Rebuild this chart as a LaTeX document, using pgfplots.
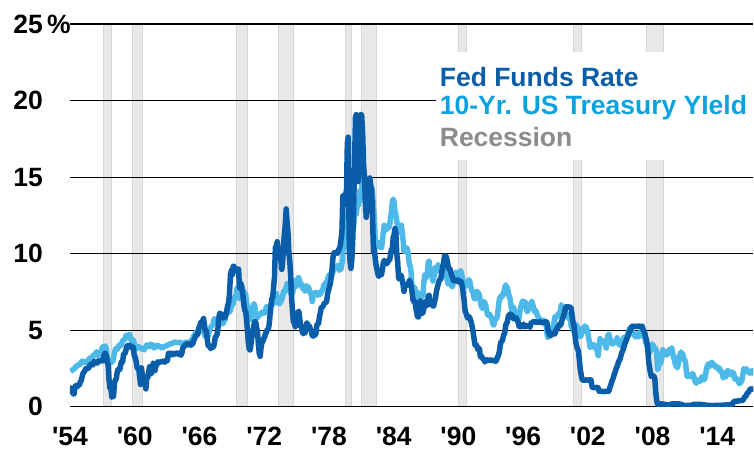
\documentclass[border=0pt]{standalone}
\usepackage{pgfplots}
\pgfplotsset{compat=1.18}
\usepackage{fontspec}
\setmainfont{Liberation Sans}
\definecolor{fedblue}{HTML}{0A5DA8}
\definecolor{tsyblue}{HTML}{4DB9E8}
\definecolor{tsytext}{HTML}{0AA3E0}
\definecolor{recgray}{HTML}{E8E8E8}
\definecolor{recedge}{HTML}{D6D6D6}
\definecolor{legray}{HTML}{8C8C8C}
\newcommand{\bigfont}{\fontsize{26.5}{30}\selectfont\bfseries}
\begin{document}
\begin{tikzpicture}
\begin{axis}[
  set layers,
  at={(70pt,45pt)}, anchor=south west,
  scale only axis, width=684pt, height=383pt,
  xmin=1954.5, xmax=2017.85, ymin=0, ymax=25,
  axis line style={draw=none},
  major tick length=0pt,
  xtick={1954.5,1960.5,1966.5,1972.5,1978.5,1984.5,1990.5,1996.5,2002.5,2008.5,2014.5},
  xticklabels={\textquotesingle54,\textquotesingle60,\textquotesingle66,\textquotesingle72,\textquotesingle78,\textquotesingle84,\textquotesingle90,\textquotesingle96,\textquotesingle02,\textquotesingle08,\textquotesingle14},
  ytick={0,5,10,15,20,25},
  yticklabels={0,5,10,15,20,{25\rlap{\,\%}}},
  ymajorgrids, grid style={black, line width=1.1pt},
  tick label style={font=\bigfont},
  xticklabel style={anchor=base, inner sep=0pt, yshift=-38.5pt},
  yticklabel style={anchor=east, inner sep=0pt, xshift=-27pt},
  /pgf/number format/assume math mode=true,
]
% Recessions
\addplot[on layer=axis background, fill=recgray, draw=recedge, line width=0.8pt] coordinates {(1957.58,0)(1957.58,25)(1958.33,25)(1958.33,0)};
\addplot[on layer=axis background, fill=recgray, draw=recedge, line width=0.8pt] coordinates {(1960.25,0)(1960.25,25)(1961.17,25)(1961.17,0)};
\addplot[on layer=axis background, fill=recgray, draw=recedge, line width=0.8pt] coordinates {(1969.92,0)(1969.92,25)(1970.92,25)(1970.92,0)};
\addplot[on layer=axis background, fill=recgray, draw=recedge, line width=0.8pt] coordinates {(1973.83,0)(1973.83,25)(1975.25,25)(1975.25,0)};
\addplot[on layer=axis background, fill=recgray, draw=recedge, line width=0.8pt] coordinates {(1980.00,0)(1980.00,25)(1980.58,25)(1980.58,0)};
\addplot[on layer=axis background, fill=recgray, draw=recedge, line width=0.8pt] coordinates {(1981.50,0)(1981.50,25)(1982.92,25)(1982.92,0)};
\addplot[on layer=axis background, fill=recgray, draw=recedge, line width=0.8pt] coordinates {(1990.50,0)(1990.50,25)(1991.25,25)(1991.25,0)};
\addplot[on layer=axis background, fill=recgray, draw=recedge, line width=0.8pt] coordinates {(2001.17,0)(2001.17,25)(2001.92,25)(2001.92,0)};
\addplot[on layer=axis background, fill=recgray, draw=recedge, line width=0.8pt] coordinates {(2007.92,0)(2007.92,25)(2009.50,25)(2009.50,0)};
% 10-Yr Treasury
\addplot[tsyblue, line width=5.5pt, line join=round, mark=none] coordinates {
(1954.54,2.30)(1954.63,2.36)(1954.71,2.38)(1954.79,2.43)(1954.88,2.48)(1954.96,2.51)
(1955.04,2.61)(1955.13,2.65)(1955.21,2.68)(1955.29,2.75)(1955.38,2.76)(1955.46,2.78)(1955.54,2.90)(1955.63,2.97)(1955.71,2.97)(1955.79,2.88)(1955.88,2.89)(1955.96,2.96)
(1956.04,2.90)(1956.13,2.84)(1956.21,2.96)(1956.29,3.18)(1956.38,3.07)(1956.46,3.00)(1956.54,3.11)(1956.63,3.33)(1956.71,3.38)(1956.79,3.34)(1956.88,3.49)(1956.96,3.59)
(1957.04,3.46)(1957.13,3.34)(1957.21,3.41)(1957.29,3.48)(1957.38,3.60)(1957.46,3.80)(1957.54,3.93)(1957.63,3.93)(1957.71,3.92)(1957.79,3.97)(1957.88,3.72)(1957.96,3.21)
(1958.04,3.09)(1958.13,3.05)(1958.21,2.98)(1958.29,2.88)(1958.38,2.92)(1958.46,2.97)(1958.54,3.20)(1958.63,3.54)(1958.71,3.76)(1958.79,3.80)(1958.88,3.74)(1958.96,3.86)
(1959.04,4.02)(1959.13,3.96)(1959.21,3.99)(1959.29,4.12)(1959.38,4.31)(1959.46,4.34)(1959.54,4.40)(1959.63,4.43)(1959.71,4.68)(1959.79,4.53)(1959.88,4.53)(1959.96,4.69)
(1960.04,4.72)(1960.13,4.49)(1960.21,4.25)(1960.29,4.28)(1960.38,4.35)(1960.46,4.15)(1960.54,3.90)(1960.63,3.80)(1960.71,3.80)(1960.79,3.89)(1960.88,3.93)(1960.96,3.84)
(1961.04,3.84)(1961.13,3.78)(1961.21,3.74)(1961.29,3.78)(1961.38,3.71)(1961.46,3.88)(1961.54,3.92)(1961.63,4.04)(1961.71,3.98)(1961.79,3.92)(1961.88,3.94)(1961.96,4.06)
(1962.04,4.08)(1962.13,4.04)(1962.21,3.93)(1962.29,3.84)(1962.38,3.87)(1962.46,3.91)(1962.54,4.01)(1962.63,3.98)(1962.71,3.98)(1962.79,3.93)(1962.88,3.92)(1962.96,3.86)
(1963.04,3.83)(1963.21,3.93)(1963.38,3.97)(1963.54,4.02)(1963.71,4.08)(1963.88,4.12)(1963.96,4.13)
(1964.04,4.17)(1964.21,4.22)(1964.38,4.20)(1964.54,4.19)(1964.71,4.20)(1964.88,4.12)(1964.96,4.14)
(1965.04,4.14)(1965.21,4.21)(1965.38,4.21)(1965.54,4.20)(1965.71,4.29)(1965.88,4.45)(1965.96,4.62)
(1966.04,4.61)(1966.13,4.83)(1966.21,4.87)(1966.29,4.75)(1966.38,4.78)(1966.46,4.81)(1966.54,5.02)(1966.63,5.22)(1966.71,5.18)(1966.79,5.01)(1966.88,5.16)(1966.96,4.84)
(1967.04,4.58)(1967.13,4.63)(1967.21,4.54)(1967.29,4.59)(1967.38,4.85)(1967.46,5.02)(1967.54,5.16)(1967.63,5.28)(1967.71,5.30)(1967.79,5.48)(1967.88,5.75)(1967.96,5.70)
(1968.04,5.53)(1968.13,5.56)(1968.21,5.74)(1968.29,5.64)(1968.38,5.87)(1968.46,5.72)(1968.54,5.50)(1968.63,5.42)(1968.71,5.46)(1968.79,5.58)(1968.88,5.70)(1968.96,6.03)
(1969.04,6.04)(1969.13,6.19)(1969.21,6.30)(1969.29,6.17)(1969.38,6.32)(1969.46,6.57)(1969.54,6.72)(1969.63,6.69)(1969.71,7.16)(1969.79,7.10)(1969.88,7.14)(1969.96,7.65)
(1970.04,7.79)(1970.13,7.24)(1970.21,7.07)(1970.29,7.39)(1970.38,7.91)(1970.46,7.84)(1970.54,7.46)(1970.63,7.53)(1970.71,7.39)(1970.79,7.33)(1970.88,6.84)(1970.96,6.39)
(1971.04,6.24)(1971.13,6.11)(1971.21,5.70)(1971.29,5.83)(1971.38,6.39)(1971.46,6.52)(1971.54,6.73)(1971.63,6.58)(1971.71,6.14)(1971.79,5.93)(1971.88,5.81)(1971.96,5.93)
(1972.04,5.95)(1972.13,6.08)(1972.21,6.07)(1972.29,6.19)(1972.38,6.13)(1972.46,6.11)(1972.54,6.11)(1972.63,6.21)(1972.71,6.55)(1972.79,6.48)(1972.88,6.28)(1972.96,6.36)
(1973.04,6.46)(1973.13,6.64)(1973.21,6.71)(1973.29,6.67)(1973.38,6.85)(1973.46,6.90)(1973.54,7.13)(1973.63,7.40)(1973.71,7.09)(1973.79,6.79)(1973.88,6.73)(1973.96,6.74)
(1974.04,6.99)(1974.13,6.96)(1974.21,7.21)(1974.29,7.51)(1974.38,7.58)(1974.46,7.54)(1974.54,7.81)(1974.63,8.04)(1974.71,8.04)(1974.79,7.90)(1974.88,7.68)(1974.96,7.43)
(1975.04,7.50)(1975.13,7.39)(1975.21,7.73)(1975.29,8.23)(1975.38,8.06)(1975.46,7.86)(1975.54,8.06)(1975.63,8.40)(1975.71,8.43)(1975.79,8.14)(1975.88,8.05)(1975.96,8.00)
(1976.04,7.74)(1976.13,7.79)(1976.21,7.73)(1976.29,7.56)(1976.38,7.90)(1976.46,7.86)(1976.54,7.83)(1976.63,7.77)(1976.71,7.59)(1976.79,7.41)(1976.88,7.29)(1976.96,6.87)
(1977.04,7.21)(1977.13,7.39)(1977.21,7.46)(1977.29,7.37)(1977.38,7.46)(1977.46,7.28)(1977.54,7.33)(1977.63,7.40)(1977.71,7.34)(1977.79,7.52)(1977.88,7.58)(1977.96,7.69)
(1978.04,7.96)(1978.13,8.03)(1978.21,8.04)(1978.29,8.15)(1978.38,8.35)(1978.46,8.46)(1978.54,8.64)(1978.63,8.41)(1978.71,8.42)(1978.79,8.64)(1978.88,8.81)(1978.96,9.01)
(1979.04,9.10)(1979.13,9.10)(1979.21,9.12)(1979.29,9.18)(1979.38,9.25)(1979.46,8.91)(1979.54,8.95)(1979.63,9.03)(1979.71,9.33)(1979.79,10.30)(1979.88,10.65)(1979.96,10.39)
(1980.04,10.80)(1980.13,12.41)(1980.21,12.75)(1980.29,11.47)(1980.38,10.18)(1980.46,9.78)(1980.54,10.25)(1980.63,11.10)(1980.71,11.51)(1980.79,11.75)(1980.88,12.68)(1980.96,12.84)
(1981.04,12.57)(1981.13,13.19)(1981.21,13.12)(1981.29,13.68)(1981.38,14.10)(1981.46,13.47)(1981.54,14.28)(1981.63,14.94)(1981.71,15.32)(1981.79,15.15)(1981.88,13.39)(1981.96,13.72)
(1982.04,14.59)(1982.13,14.43)(1982.21,13.86)(1982.29,13.87)(1982.38,13.62)(1982.46,14.30)(1982.54,13.95)(1982.63,13.06)(1982.71,12.34)(1982.79,10.91)(1982.88,10.55)(1982.96,10.54)
(1983.04,10.46)(1983.13,10.72)(1983.21,10.51)(1983.29,10.40)(1983.38,10.38)(1983.46,10.85)(1983.54,11.38)(1983.63,11.85)(1983.71,11.65)(1983.79,11.54)(1983.88,11.69)(1983.96,11.83)
(1984.04,11.67)(1984.13,11.84)(1984.21,12.32)(1984.29,12.63)(1984.38,13.41)(1984.46,13.56)(1984.54,13.36)(1984.63,12.72)(1984.71,12.52)(1984.79,12.16)(1984.88,11.57)(1984.96,11.50)
(1985.04,11.38)(1985.13,11.51)(1985.21,11.86)(1985.29,11.43)(1985.38,10.85)(1985.46,10.16)(1985.54,10.31)(1985.63,10.33)(1985.71,10.37)(1985.79,10.24)(1985.88,9.78)(1985.96,9.26)
(1986.04,9.19)(1986.13,8.70)(1986.21,7.78)(1986.29,7.30)(1986.38,7.71)(1986.46,7.80)(1986.54,7.30)(1986.63,7.17)(1986.71,7.45)(1986.79,7.43)(1986.88,7.25)(1986.96,7.11)
(1987.04,7.08)(1987.13,7.25)(1987.21,7.25)(1987.29,8.02)(1987.38,8.61)(1987.46,8.40)(1987.54,8.45)(1987.63,8.76)(1987.71,9.42)(1987.79,9.52)(1987.88,8.86)(1987.96,8.99)
(1988.04,8.67)(1988.13,8.21)(1988.21,8.37)(1988.29,8.72)(1988.38,9.09)(1988.46,8.92)(1988.54,9.06)(1988.63,9.26)(1988.71,8.98)(1988.79,8.80)(1988.88,8.96)(1988.96,9.11)
(1989.04,9.09)(1989.13,9.17)(1989.21,9.36)(1989.29,9.18)(1989.38,8.86)(1989.46,8.28)(1989.54,8.02)(1989.63,8.11)(1989.71,8.19)(1989.79,8.01)(1989.88,7.87)(1989.96,7.84)
(1990.04,8.21)(1990.13,8.47)(1990.21,8.59)(1990.29,8.79)(1990.38,8.76)(1990.46,8.48)(1990.54,8.47)(1990.63,8.75)(1990.71,8.89)(1990.79,8.72)(1990.88,8.39)(1990.96,8.08)
(1991.04,8.09)(1991.13,7.85)(1991.21,8.11)(1991.29,8.04)(1991.38,8.07)(1991.46,8.28)(1991.54,8.27)(1991.63,7.90)(1991.71,7.65)(1991.79,7.53)(1991.88,7.42)(1991.96,7.09)
(1992.04,7.03)(1992.13,7.34)(1992.21,7.54)(1992.29,7.48)(1992.38,7.39)(1992.46,7.26)(1992.54,6.84)(1992.63,6.59)(1992.71,6.42)(1992.79,6.59)(1992.88,6.87)(1992.96,6.77)
(1993.04,6.60)(1993.13,6.26)(1993.21,5.98)(1993.29,5.97)(1993.38,6.04)(1993.46,5.96)(1993.54,5.81)(1993.63,5.68)(1993.71,5.36)(1993.79,5.33)(1993.88,5.72)(1993.96,5.77)
(1994.04,5.75)(1994.13,5.97)(1994.21,6.48)(1994.29,6.97)(1994.38,7.18)(1994.46,7.10)(1994.54,7.30)(1994.63,7.24)(1994.71,7.46)(1994.79,7.74)(1994.88,7.96)(1994.96,7.81)
(1995.04,7.78)(1995.13,7.47)(1995.21,7.20)(1995.29,7.06)(1995.38,6.63)(1995.46,6.17)(1995.54,6.28)(1995.63,6.49)(1995.71,6.20)(1995.79,6.04)(1995.88,5.93)(1995.96,5.71)
(1996.04,5.65)(1996.13,5.81)(1996.21,6.27)(1996.29,6.51)(1996.38,6.74)(1996.46,6.91)(1996.54,6.87)(1996.63,6.64)(1996.71,6.83)(1996.79,6.53)(1996.88,6.20)(1996.96,6.30)
(1997.04,6.58)(1997.13,6.42)(1997.21,6.69)(1997.29,6.89)(1997.38,6.71)(1997.46,6.49)(1997.54,6.22)(1997.63,6.30)(1997.71,6.21)(1997.79,6.03)(1997.88,5.88)(1997.96,5.81)
(1998.04,5.54)(1998.13,5.57)(1998.21,5.65)(1998.29,5.64)(1998.38,5.65)(1998.46,5.50)(1998.54,5.46)(1998.63,5.34)(1998.71,4.81)(1998.79,4.53)(1998.88,4.83)(1998.96,4.65)
(1999.04,4.72)(1999.13,5.00)(1999.21,5.23)(1999.29,5.18)(1999.38,5.54)(1999.46,5.90)(1999.54,5.79)(1999.63,5.94)(1999.71,5.92)(1999.79,6.11)(1999.88,6.03)(1999.96,6.28)
(2000.04,6.66)(2000.13,6.52)(2000.21,6.26)(2000.29,5.99)(2000.38,6.44)(2000.46,6.10)(2000.54,6.05)(2000.63,5.83)(2000.71,5.80)(2000.79,5.74)(2000.88,5.72)(2000.96,5.24)
(2001.04,5.16)(2001.13,5.10)(2001.21,4.89)(2001.29,5.14)(2001.38,5.39)(2001.46,5.28)(2001.54,5.24)(2001.63,4.97)(2001.71,4.73)(2001.79,4.57)(2001.88,4.65)(2001.96,5.09)
(2002.04,5.04)(2002.13,4.91)(2002.21,5.28)(2002.29,5.21)(2002.38,5.16)(2002.46,4.93)(2002.54,4.65)(2002.63,4.26)(2002.71,3.87)(2002.79,3.94)(2002.88,4.05)(2002.96,4.03)
(2003.04,4.05)(2003.13,3.90)(2003.21,3.81)(2003.29,3.96)(2003.38,3.57)(2003.46,3.33)(2003.54,3.98)(2003.63,4.45)(2003.71,4.27)(2003.79,4.29)(2003.88,4.30)(2003.96,4.27)
(2004.04,4.15)(2004.13,4.08)(2004.21,3.83)(2004.29,4.35)(2004.38,4.72)(2004.46,4.73)(2004.54,4.50)(2004.63,4.28)(2004.71,4.13)(2004.79,4.10)(2004.88,4.19)(2004.96,4.23)
(2005.04,4.22)(2005.13,4.17)(2005.21,4.50)(2005.29,4.34)(2005.38,4.14)(2005.46,4.00)(2005.54,4.18)(2005.63,4.26)(2005.71,4.20)(2005.79,4.46)(2005.88,4.54)(2005.96,4.47)
(2006.04,4.42)(2006.13,4.57)(2006.21,4.72)(2006.29,4.99)(2006.38,5.11)(2006.46,5.11)(2006.54,5.09)(2006.63,4.88)(2006.71,4.72)(2006.79,4.73)(2006.88,4.60)(2006.96,4.56)
(2007.04,4.76)(2007.13,4.72)(2007.21,4.56)(2007.29,4.69)(2007.38,4.75)(2007.46,5.10)(2007.54,5.00)(2007.63,4.67)(2007.71,4.52)(2007.79,4.53)(2007.88,4.15)(2007.96,4.10)
(2008.04,3.74)(2008.13,3.74)(2008.21,3.51)(2008.29,3.68)(2008.38,3.88)(2008.46,4.10)(2008.54,4.01)(2008.63,3.89)(2008.71,3.69)(2008.79,3.81)(2008.88,3.53)(2008.96,2.42)
(2009.04,2.52)(2009.13,2.87)(2009.21,2.82)(2009.29,2.93)(2009.38,3.29)(2009.46,3.72)(2009.54,3.56)(2009.63,3.59)(2009.71,3.40)(2009.79,3.39)(2009.88,3.40)(2009.96,3.59)
(2010.04,3.73)(2010.13,3.69)(2010.21,3.73)(2010.29,3.85)(2010.38,3.42)(2010.46,3.20)(2010.54,3.01)(2010.63,2.70)(2010.71,2.65)(2010.79,2.54)(2010.88,2.76)(2010.96,3.29)
(2011.04,3.39)(2011.13,3.58)(2011.21,3.41)(2011.29,3.46)(2011.38,3.17)(2011.46,3.00)(2011.54,3.00)(2011.63,2.30)(2011.71,1.98)(2011.79,2.15)(2011.88,2.01)(2011.96,1.98)
(2012.04,1.97)(2012.13,1.97)(2012.21,2.17)(2012.29,2.05)(2012.38,1.80)(2012.46,1.62)(2012.54,1.53)(2012.63,1.68)(2012.71,1.72)(2012.79,1.75)(2012.88,1.65)(2012.96,1.72)
(2013.04,1.91)(2013.13,1.98)(2013.21,1.96)(2013.29,1.76)(2013.38,1.93)(2013.46,2.30)(2013.54,2.58)(2013.63,2.74)(2013.71,2.81)(2013.79,2.62)(2013.88,2.72)(2013.96,2.90)
(2014.04,2.86)(2014.13,2.71)(2014.21,2.72)(2014.29,2.71)(2014.38,2.56)(2014.46,2.60)(2014.54,2.54)(2014.63,2.42)(2014.71,2.53)(2014.79,2.30)(2014.88,2.33)(2014.96,2.21)
(2015.04,1.88)(2015.13,1.98)(2015.21,2.04)(2015.29,1.94)(2015.38,2.20)(2015.46,2.36)(2015.54,2.32)(2015.63,2.17)(2015.71,2.17)(2015.79,2.07)(2015.88,2.26)(2015.96,2.24)
(2016.04,2.09)(2016.13,1.78)(2016.21,1.89)(2016.29,1.81)(2016.38,1.81)(2016.46,1.64)(2016.54,1.50)(2016.63,1.56)(2016.71,1.63)(2016.79,1.76)(2016.88,2.14)(2016.96,2.49)
(2017.04,2.43)(2017.13,2.42)(2017.21,2.48)(2017.29,2.30)(2017.38,2.30)(2017.46,2.19)(2017.54,2.32)(2017.63,2.21)(2017.71,2.20)(2017.79,2.36)(2017.88,2.35)
};
% Fed Funds
\addplot[fedblue, line width=5.5pt, line join=round, mark=none] coordinates {
(1954.54,0.80)(1954.63,1.22)(1954.71,1.06)(1954.79,0.85)(1954.88,0.83)(1954.96,1.28)
(1955.04,1.39)(1955.13,1.29)(1955.21,1.35)(1955.29,1.43)(1955.38,1.43)(1955.46,1.64)(1955.54,1.68)(1955.63,1.96)(1955.71,2.18)(1955.79,2.24)(1955.88,2.35)(1955.96,2.48)
(1956.04,2.45)(1956.13,2.50)(1956.21,2.50)(1956.29,2.62)(1956.38,2.75)(1956.46,2.71)(1956.54,2.75)(1956.63,2.73)(1956.71,2.95)(1956.79,2.96)(1956.88,2.88)(1956.96,2.94)
(1957.04,2.84)(1957.13,3.00)(1957.21,2.96)(1957.29,3.00)(1957.38,3.00)(1957.46,3.00)(1957.54,2.99)(1957.63,3.24)(1957.71,3.47)(1957.79,3.50)(1957.88,3.28)(1957.96,2.98)
(1958.04,2.72)(1958.13,1.67)(1958.21,1.20)(1958.29,1.26)(1958.38,0.63)(1958.46,0.93)(1958.54,0.68)(1958.63,1.53)(1958.71,1.76)(1958.79,1.80)(1958.88,2.27)(1958.96,2.42)
(1959.04,2.48)(1959.13,2.43)(1959.21,2.80)(1959.29,2.96)(1959.38,2.90)(1959.46,3.39)(1959.54,3.47)(1959.63,3.50)(1959.71,3.76)(1959.79,3.98)(1959.88,4.00)(1959.96,3.99)
(1960.04,3.99)(1960.13,3.97)(1960.21,3.84)(1960.29,3.92)(1960.38,3.85)(1960.46,3.32)(1960.54,3.23)(1960.63,2.98)(1960.71,2.60)(1960.79,2.47)(1960.88,2.44)(1960.96,1.98)
(1961.04,1.45)(1961.13,2.54)(1961.21,2.02)(1961.29,1.49)(1961.38,1.98)(1961.46,1.73)(1961.54,1.16)(1961.63,2.00)(1961.71,1.88)(1961.79,2.26)(1961.88,2.61)(1961.96,2.33)
(1962.04,2.15)(1962.13,2.37)(1962.21,2.85)(1962.29,2.78)(1962.38,2.36)(1962.46,2.68)(1962.54,2.71)(1962.63,2.93)(1962.71,2.90)(1962.79,2.90)(1962.88,2.94)(1962.96,2.93)
(1963.04,2.92)(1963.13,3.00)(1963.21,2.98)(1963.29,2.90)(1963.38,3.00)(1963.46,2.99)(1963.54,3.02)(1963.63,3.49)(1963.71,3.48)(1963.79,3.50)(1963.88,3.48)(1963.96,3.38)
(1964.04,3.48)(1964.13,3.48)(1964.21,3.43)(1964.29,3.47)(1964.38,3.50)(1964.46,3.50)(1964.54,3.42)(1964.63,3.50)(1964.71,3.45)(1964.79,3.36)(1964.88,3.52)(1964.96,3.85)
(1965.04,3.90)(1965.13,3.98)(1965.21,4.04)(1965.29,4.09)(1965.38,4.10)(1965.46,4.04)(1965.54,4.09)(1965.63,4.12)(1965.71,4.01)(1965.79,4.08)(1965.88,4.10)(1965.96,4.32)
(1966.04,4.42)(1966.13,4.60)(1966.21,4.65)(1966.29,4.67)(1966.38,4.90)(1966.46,5.17)(1966.54,5.30)(1966.63,5.53)(1966.71,5.40)(1966.79,5.53)(1966.88,5.76)(1966.96,5.40)
(1967.04,4.94)(1967.13,5.00)(1967.21,4.53)(1967.29,4.05)(1967.38,3.94)(1967.46,3.98)(1967.54,3.79)(1967.63,3.90)(1967.71,3.99)(1967.79,3.88)(1967.88,4.13)(1967.96,4.51)
(1968.04,4.60)(1968.13,4.71)(1968.21,5.05)(1968.29,5.76)(1968.38,6.11)(1968.46,6.07)(1968.54,6.02)(1968.63,6.03)(1968.71,5.78)(1968.79,5.91)(1968.88,5.82)(1968.96,6.02)
(1969.04,6.30)(1969.13,6.64)(1969.21,6.79)(1969.29,7.41)(1969.38,8.67)(1969.46,8.90)(1969.54,8.61)(1969.63,9.19)(1969.71,9.15)(1969.79,9.00)(1969.88,8.85)(1969.96,8.97)
(1970.04,8.98)(1970.13,8.98)(1970.21,7.76)(1970.29,8.10)(1970.38,7.95)(1970.46,7.61)(1970.54,7.21)(1970.63,6.61)(1970.71,6.29)(1970.79,6.20)(1970.88,5.60)(1970.96,4.90)
(1971.04,4.14)(1971.13,3.72)(1971.21,3.71)(1971.29,4.16)(1971.38,4.63)(1971.46,4.91)(1971.54,5.31)(1971.63,5.57)(1971.71,5.55)(1971.79,5.20)(1971.88,4.91)(1971.96,4.14)
(1972.04,3.50)(1972.13,3.29)(1972.21,3.83)(1972.29,4.17)(1972.38,4.27)(1972.46,4.46)(1972.54,4.55)(1972.63,4.80)(1972.71,4.87)(1972.79,5.04)(1972.88,5.06)(1972.96,5.33)
(1973.04,5.94)(1973.13,6.58)(1973.21,7.09)(1973.29,7.12)(1973.38,7.84)(1973.46,8.49)(1973.54,10.40)(1973.63,10.50)(1973.71,10.78)(1973.79,10.01)(1973.88,10.03)(1973.96,9.95)
(1974.04,9.65)(1974.13,8.97)(1974.21,9.35)(1974.29,10.51)(1974.38,11.31)(1974.46,11.93)(1974.54,12.92)(1974.63,12.01)(1974.71,11.34)(1974.79,10.06)(1974.88,9.45)(1974.96,8.53)
(1975.04,7.13)(1975.13,6.24)(1975.21,5.54)(1975.29,5.49)(1975.38,5.22)(1975.46,5.55)(1975.54,6.10)(1975.63,6.14)(1975.71,6.24)(1975.79,5.82)(1975.88,5.22)(1975.96,5.20)
(1976.04,4.87)(1976.13,4.77)(1976.21,4.84)(1976.29,4.82)(1976.38,5.29)(1976.46,5.48)(1976.54,5.31)(1976.63,5.29)(1976.71,5.25)(1976.79,5.03)(1976.88,4.95)(1976.96,4.65)
(1977.04,4.61)(1977.13,4.68)(1977.21,4.69)(1977.29,4.73)(1977.38,5.35)(1977.46,5.39)(1977.54,5.42)(1977.63,5.90)(1977.71,6.14)(1977.79,6.47)(1977.88,6.51)(1977.96,6.56)
(1978.04,6.70)(1978.13,6.78)(1978.21,6.79)(1978.29,6.89)(1978.38,7.36)(1978.46,7.60)(1978.54,7.81)(1978.63,8.04)(1978.71,8.45)(1978.79,8.96)(1978.88,9.76)(1978.96,10.03)
(1979.04,10.07)(1979.13,10.06)(1979.21,10.09)(1979.29,10.01)(1979.38,10.24)(1979.46,10.29)(1979.54,10.47)(1979.63,10.94)(1979.71,11.43)(1979.79,13.77)(1979.88,13.18)(1979.96,13.78)
(1980.04,13.82)(1980.13,14.13)(1980.21,17.19)(1980.29,17.61)(1980.38,10.98)(1980.46,9.47)(1980.54,9.03)(1980.63,9.61)(1980.71,10.87)(1980.79,12.81)(1980.88,15.85)(1980.96,18.90)
(1981.04,19.08)(1981.13,15.93)(1981.21,14.70)(1981.29,15.72)(1981.38,18.52)(1981.46,19.10)(1981.54,19.04)(1981.63,17.82)(1981.71,15.87)(1981.79,15.08)(1981.88,13.31)(1981.96,12.37)
(1982.04,13.22)(1982.13,14.78)(1982.21,14.68)(1982.29,14.94)(1982.38,14.45)(1982.46,14.15)(1982.54,12.59)(1982.63,10.12)(1982.71,10.31)(1982.79,9.71)(1982.88,9.20)(1982.96,8.95)
(1983.04,8.68)(1983.13,8.51)(1983.21,8.77)(1983.29,8.80)(1983.38,8.63)(1983.46,8.98)(1983.54,9.37)(1983.63,9.56)(1983.71,9.45)(1983.79,9.48)(1983.88,9.34)(1983.96,9.47)
(1984.04,9.56)(1984.13,9.59)(1984.21,9.91)(1984.29,10.29)(1984.38,10.32)(1984.46,11.06)(1984.54,11.23)(1984.63,11.64)(1984.71,11.30)(1984.79,9.99)(1984.88,9.43)(1984.96,8.38)
(1985.04,8.35)(1985.13,8.50)(1985.21,8.58)(1985.29,8.27)(1985.38,7.97)(1985.46,7.53)(1985.54,7.88)(1985.63,7.90)(1985.71,7.92)(1985.79,7.99)(1985.88,8.05)(1985.96,8.27)
(1986.04,8.14)(1986.13,7.86)(1986.21,7.48)(1986.29,6.99)(1986.38,6.85)(1986.46,6.92)(1986.54,6.56)(1986.63,6.17)(1986.71,5.89)(1986.79,5.85)(1986.88,6.04)(1986.96,6.91)
(1987.04,6.43)(1987.13,6.10)(1987.21,6.13)(1987.29,6.37)(1987.38,6.85)(1987.46,6.73)(1987.54,6.58)(1987.63,6.73)(1987.71,7.22)(1987.79,7.29)(1987.88,6.69)(1987.96,6.77)
(1988.04,6.83)(1988.13,6.58)(1988.21,6.58)(1988.29,6.87)(1988.38,7.09)(1988.46,7.51)(1988.54,7.75)(1988.63,8.01)(1988.71,8.19)(1988.79,8.30)(1988.88,8.35)(1988.96,8.76)
(1989.04,9.12)(1989.13,9.36)(1989.21,9.85)(1989.29,9.84)(1989.38,9.81)(1989.46,9.53)(1989.54,9.24)(1989.63,8.99)(1989.71,9.02)(1989.79,8.84)(1989.88,8.55)(1989.96,8.45)
(1990.04,8.23)(1990.13,8.24)(1990.21,8.28)(1990.29,8.26)(1990.38,8.18)(1990.46,8.29)(1990.54,8.15)(1990.63,8.13)(1990.71,8.20)(1990.79,8.11)(1990.88,7.81)(1990.96,7.31)
(1991.04,6.91)(1991.13,6.25)(1991.21,6.12)(1991.29,5.91)(1991.38,5.78)(1991.46,5.90)(1991.54,5.82)(1991.63,5.66)(1991.71,5.45)(1991.79,5.21)(1991.88,4.81)(1991.96,4.43)
(1992.04,4.03)(1992.13,4.06)(1992.21,3.98)(1992.29,3.73)(1992.38,3.82)(1992.46,3.76)(1992.54,3.25)(1992.63,3.30)(1992.71,3.22)(1992.79,3.10)(1992.88,3.09)(1992.96,2.92)
(1993.04,3.02)(1993.21,3.07)(1993.38,3.00)(1993.54,3.06)(1993.71,3.01)(1993.88,3.02)(1993.96,2.96)
(1994.04,3.05)(1994.13,3.25)(1994.21,3.34)(1994.29,3.56)(1994.38,4.01)(1994.46,4.25)(1994.54,4.26)(1994.63,4.47)(1994.71,4.73)(1994.79,4.76)(1994.88,5.29)(1994.96,5.45)
(1995.04,5.53)(1995.13,5.92)(1995.21,5.98)(1995.29,6.05)(1995.38,6.01)(1995.46,6.00)(1995.54,5.85)(1995.63,5.74)(1995.71,5.80)(1995.79,5.76)(1995.88,5.80)(1995.96,5.60)
(1996.04,5.56)(1996.13,5.22)(1996.21,5.31)(1996.29,5.22)(1996.38,5.24)(1996.46,5.27)(1996.54,5.40)(1996.63,5.22)(1996.71,5.30)(1996.79,5.24)(1996.88,5.31)(1996.96,5.29)
(1997.04,5.25)(1997.13,5.19)(1997.21,5.39)(1997.29,5.51)(1997.38,5.50)(1997.46,5.56)(1997.54,5.52)(1997.63,5.54)(1997.71,5.54)(1997.79,5.50)(1997.88,5.52)(1997.96,5.50)
(1998.04,5.56)(1998.21,5.49)(1998.38,5.49)(1998.54,5.54)(1998.63,5.55)(1998.71,5.51)(1998.79,5.07)(1998.88,4.83)(1998.96,4.68)
(1999.04,4.63)(1999.21,4.81)(1999.38,4.74)(1999.46,4.76)(1999.54,4.99)(1999.63,5.07)(1999.71,5.22)(1999.79,5.20)(1999.88,5.42)(1999.96,5.30)
(2000.04,5.45)(2000.13,5.73)(2000.21,5.85)(2000.29,6.02)(2000.38,6.27)(2000.46,6.53)(2000.54,6.54)(2000.63,6.50)(2000.71,6.52)(2000.79,6.51)(2000.88,6.51)(2000.96,6.40)
(2001.04,5.98)(2001.13,5.49)(2001.21,5.31)(2001.29,4.80)(2001.38,4.21)(2001.46,3.97)(2001.54,3.77)(2001.63,3.65)(2001.71,3.07)(2001.79,2.49)(2001.88,2.09)(2001.96,1.82)
(2002.04,1.73)(2002.21,1.73)(2002.38,1.75)(2002.54,1.73)(2002.71,1.75)(2002.79,1.75)(2002.88,1.34)(2002.96,1.24)
(2003.04,1.24)(2003.21,1.25)(2003.38,1.26)(2003.46,1.22)(2003.54,1.01)(2003.71,1.01)(2003.88,1.00)(2003.96,0.98)
(2004.04,1.00)(2004.21,1.00)(2004.38,1.00)(2004.46,1.03)(2004.54,1.26)(2004.63,1.43)(2004.71,1.61)(2004.79,1.76)(2004.88,1.93)(2004.96,2.16)
(2005.04,2.28)(2005.13,2.50)(2005.21,2.63)(2005.29,2.79)(2005.38,3.00)(2005.46,3.04)(2005.54,3.26)(2005.63,3.50)(2005.71,3.62)(2005.79,3.78)(2005.88,4.00)(2005.96,4.16)
(2006.04,4.29)(2006.13,4.49)(2006.21,4.59)(2006.29,4.79)(2006.38,4.94)(2006.46,4.99)(2006.54,5.24)(2006.71,5.25)(2006.88,5.25)(2006.96,5.24)
(2007.04,5.25)(2007.21,5.26)(2007.38,5.25)(2007.54,5.26)(2007.63,5.02)(2007.71,4.94)(2007.79,4.76)(2007.88,4.49)(2007.96,4.24)
(2008.04,3.94)(2008.13,2.98)(2008.21,2.61)(2008.29,2.28)(2008.38,1.98)(2008.46,2.00)(2008.54,2.01)(2008.63,2.00)(2008.71,1.81)(2008.79,0.97)(2008.88,0.39)(2008.96,0.16)
(2009.04,0.15)(2009.21,0.18)(2009.38,0.18)(2009.54,0.16)(2009.71,0.15)(2009.88,0.12)(2009.96,0.12)
(2010.04,0.11)(2010.21,0.16)(2010.38,0.20)(2010.54,0.18)(2010.71,0.19)(2010.88,0.19)
(2011.04,0.17)(2011.21,0.14)(2011.38,0.09)(2011.54,0.07)(2011.71,0.08)(2011.88,0.08)
(2012.04,0.08)(2012.21,0.13)(2012.38,0.16)(2012.54,0.16)(2012.71,0.14)(2012.88,0.16)
(2013.04,0.14)(2013.21,0.14)(2013.38,0.11)(2013.54,0.09)(2013.71,0.08)(2013.88,0.08)
(2014.04,0.07)(2014.21,0.08)(2014.38,0.09)(2014.54,0.09)(2014.71,0.09)(2014.88,0.09)
(2015.04,0.11)(2015.21,0.11)(2015.38,0.12)(2015.54,0.13)(2015.71,0.14)(2015.88,0.12)(2015.96,0.24)
(2016.04,0.34)(2016.21,0.36)(2016.38,0.37)(2016.54,0.39)(2016.71,0.40)(2016.88,0.41)(2016.96,0.54)
(2017.04,0.65)(2017.13,0.66)(2017.21,0.79)(2017.29,0.90)(2017.38,0.91)(2017.46,1.04)(2017.54,1.15)(2017.63,1.16)(2017.71,1.15)(2017.79,1.15)(2017.88,1.16)
};
\end{axis}
% Legend box
\fill[white] (436pt,292pt) rectangle (754pt,400pt);
\node[anchor=base west, inner sep=0pt, text=fedblue, font=\bigfont] at (440pt,365pt) {Fed Funds Rate};
\node[anchor=base west, inner sep=0pt, text=tsytext, font=\bigfont] at (440pt,337pt) {10-Yr. US Treasury YIeld};
\node[anchor=base west, inner sep=0pt, text=legray, font=\bigfont] at (440pt,305pt) {Recession};
\path[use as bounding box] (0,0) rectangle (754pt,452pt);
\end{tikzpicture}
\end{document}
